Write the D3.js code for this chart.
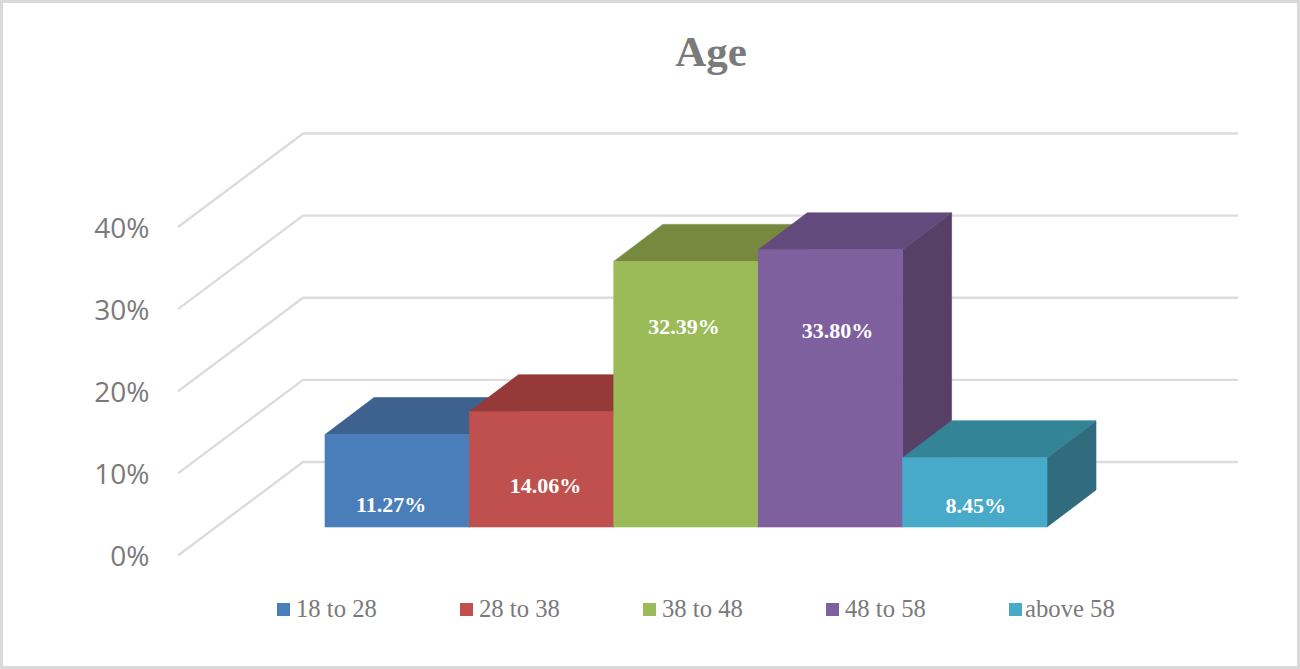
<!DOCTYPE html>
<html><head><meta charset="utf-8">
<script src="https://cdn.jsdelivr.net/npm/d3@7/dist/d3.min.js"></script>
<style>html,body{margin:0;padding:0;background:#fff}svg{display:block}</style>
</head><body><svg id="c" width="1300" height="669"></svg>
<script>
const categories = ["18 to 28","28 to 38","38 to 48","48 to 58","above 58"];
const values = [11.27,14.06,32.39,33.80,8.45];
const valueLabels = ["11.27%","14.06%","32.39%","33.80%","8.45%"];
const tickValues = [0,10,20,30,40];
const titleText = "Age";

const frontColors = ["#4a7ebb","#c0504d","#9bbb59","#7f609f","#46aac8"];
const topColors   = ["#3d6290","#953a38","#76893f","#624b7c","#338497"];
const sideColors  = ["#335378","#7c302e","#63733a","#564066","#316c7e"];

const svg = d3.select("#c");
svg.append("rect").attr("x",1.5).attr("y",1.5).attr("width",1297).attr("height",666)
  .attr("fill","#fff").attr("stroke","#d9d9d9").attr("stroke-width",3);

// wall gridlines
const wallBack = d3.scaleLinear().domain([0,40]).range([462,133.5]);
const wallX0 = 178, wallX1 = 303, wallX2 = 1238, wallDy = 93.5;
const line = d3.line();
svg.append("g").selectAll("path").data(tickValues).join("path")
  .attr("d",t=>line([[wallX0,wallBack(t)+wallDy],[wallX1,wallBack(t)],[wallX2,wallBack(t)]]))
  .attr("fill","none").attr("stroke","#dcdcdc").attr("stroke-width",2.4);

// axis labels
svg.append("g").selectAll("text").data(tickValues).join("text")
  .attr("x",149.5).attr("y",t=>wallBack(t)+wallDy-0.5)
  .attr("text-anchor","end").attr("dominant-baseline","central")
  .attr("font-family","'Open Sans'").attr("font-size",28).attr("fill","#7a7a7a")
  .text(t=>t+"%");

// bars
const x = d3.scaleBand().domain(categories).range([325,1047]);
const baseY = 527, pxPerUnit = 8.2;
const h = d3.scaleLinear().domain([0,40]).range([0,40*pxPerUnit]);
const dx = 49, dy = 37;
const bars = svg.append("g").selectAll("g").data(categories).join("g");
const poly = p => line(p)+"Z";
bars.each(function(c,i){
  const g = d3.select(this), x0=x(c), x1=x0+x.bandwidth(), yT=baseY-h(values[i]);
  g.append("path").attr("d",poly([[x1,yT],[x1+dx,yT-dy],[x1+dx,baseY-dy],[x1,baseY]]))
    .attr("fill",sideColors[i]).attr("stroke",sideColors[i]).attr("stroke-width",0.6);
  g.append("path").attr("d",poly([[x0,yT],[x0+dx,yT-dy],[x1+dx,yT-dy],[x1,yT]]))
    .attr("fill",topColors[i]).attr("stroke",topColors[i]).attr("stroke-width",0.6);
  g.append("rect").attr("x",x0).attr("y",yT).attr("width",x.bandwidth()).attr("height",h(values[i]))
    .attr("fill",frontColors[i]).attr("stroke",frontColors[i]).attr("stroke-width",0.6);
});

// data labels
const labelDx = [-6,4,-2,7,1], labelUp = [2.7,5.0,24.4,23.9,2.6];
svg.append("g").selectAll("text").data(categories).join("text")
  .attr("x",(c,i)=>x(c)+x.bandwidth()/2+labelDx[i])
  .attr("y",(c,i)=>baseY-h(labelUp[i])+7)
  .attr("text-anchor","middle")
  .attr("font-family","'Liberation Serif'").attr("font-weight","bold").attr("font-size",22).attr("fill","#fff")
  .text((c,i)=>valueLabels[i]);

// title
svg.append("text").attr("x",711).attr("y",66).attr("text-anchor","middle")
  .attr("font-family","'Liberation Serif'").attr("font-weight","bold").attr("font-size",43).attr("fill","#7a7a7a")
  .text(titleText);

// legend
const legX = [277,460,643,826,1009];
const leg = svg.append("g").selectAll("g").data(categories).join("g")
  .attr("transform",(c,i)=>`translate(${legX[i]},603)`);
leg.append("rect").attr("width",13).attr("height",13).attr("fill",(c,i)=>frontColors[i]);
leg.append("text").attr("x",(c,i)=>i===4?16:19).attr("y",14)
  .attr("font-family","'Liberation Serif'").attr("font-size",24.7).attr("fill","#7a7a7a")
  .text(c=>c);
</script></body></html>
